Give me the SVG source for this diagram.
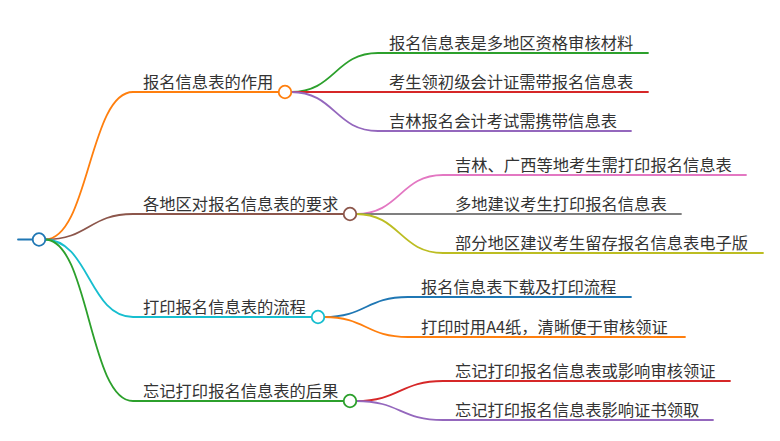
<svg xmlns="http://www.w3.org/2000/svg" width="780" height="441" viewBox="0 0 780 441">
<style>
text{font-family:"Noto Sans CJK SC","Noto Sans",sans-serif;font-size:16.3px;fill:#333}
.l{fill:none;stroke-width:1.8;stroke-linecap:round}
.c{fill:#fff;stroke-width:1.8}
</style>
<rect width="780" height="441" fill="#fff"/>
<g id="connectors">
<path class="l" stroke="#1f77b4" d="M18 239.5H33"/>
<path class="l" stroke="#ff7f0e" d="M45 239.5C89 239.5 89 92 133 92H279"/>
<path class="l" stroke="#8c564b" d="M45 239.5C89 239.5 89 214 133 214H344"/>
<path class="l" stroke="#17becf" d="M45 239.5C89 239.5 89 317 133 317H312"/>
<path class="l" stroke="#2ca02c" d="M45 239.5C89 239.5 89 401 133 401H344"/>
<path class="l" stroke="#2ca02c" d="M291 92C335 92 335 53 378 53H648"/>
<path class="l" stroke="#d62728" d="M291 92H648"/>
<path class="l" stroke="#9467bd" d="M291 92C335 92 335 131 378 131H631"/>
<path class="l" stroke="#e377c2" d="M356 214C400 214 400 175 443 175H746"/>
<path class="l" stroke="#7f7f7f" d="M356 214H681"/>
<path class="l" stroke="#bcbd22" d="M356 214C400 214 400 253 443 253H763"/>
<path class="l" stroke="#1f77b4" d="M324 317C366 317 366 297 408 297H631"/>
<path class="l" stroke="#ff7f0e" d="M324 317C366 317 366 337 408 337H685"/>
<path class="l" stroke="#d62728" d="M356 401C400 401 400 381 443 381H730"/>
<path class="l" stroke="#9467bd" d="M356 401C400 401 400 420 443 420H713"/>
</g>
<g id="root"><circle class="c" stroke="#1f77b4" cx="39" cy="239.5" r="6.3"/></g>
<g id="n1"><text x="143" y="88">报名信息表的作用</text><circle class="c" stroke="#ff7f0e" cx="285" cy="92" r="6.3"/></g>
<g id="n1a"><text x="389" y="49">报名信息表是多地区资格审核材料</text></g>
<g id="n1b"><text x="389" y="88">考生领初级会计证需带报名信息表</text></g>
<g id="n1c"><text x="389" y="127">吉林报名会计考试需携带信息表</text></g>
<g id="n2"><text x="143" y="210">各地区对报名信息表的要求</text><circle class="c" stroke="#8c564b" cx="350" cy="214" r="6.3"/></g>
<g id="n2a"><text x="455" y="171">吉林、广西等地考生需打印报名信息表</text></g>
<g id="n2b"><text x="455" y="210">多地建议考生打印报名信息表</text></g>
<g id="n2c"><text x="455" y="249">部分地区建议考生留存报名信息表电子版</text></g>
<g id="n3"><text x="143" y="313">打印报名信息表的流程</text><circle class="c" stroke="#17becf" cx="318" cy="317" r="6.3"/></g>
<g id="n3a"><text x="421" y="293">报名信息表下载及打印流程</text></g>
<g id="n3b"><text x="421" y="333">打印时用A4纸，清晰便于审核领证</text></g>
<g id="n4"><text x="143" y="397">忘记打印报名信息表的后果</text><circle class="c" stroke="#2ca02c" cx="350" cy="401" r="6.3"/></g>
<g id="n4a"><text x="455" y="377">忘记打印报名信息表或影响审核领证</text></g>
<g id="n4b"><text x="455" y="416">忘记打印报名信息表影响证书领取</text></g>
</svg>
